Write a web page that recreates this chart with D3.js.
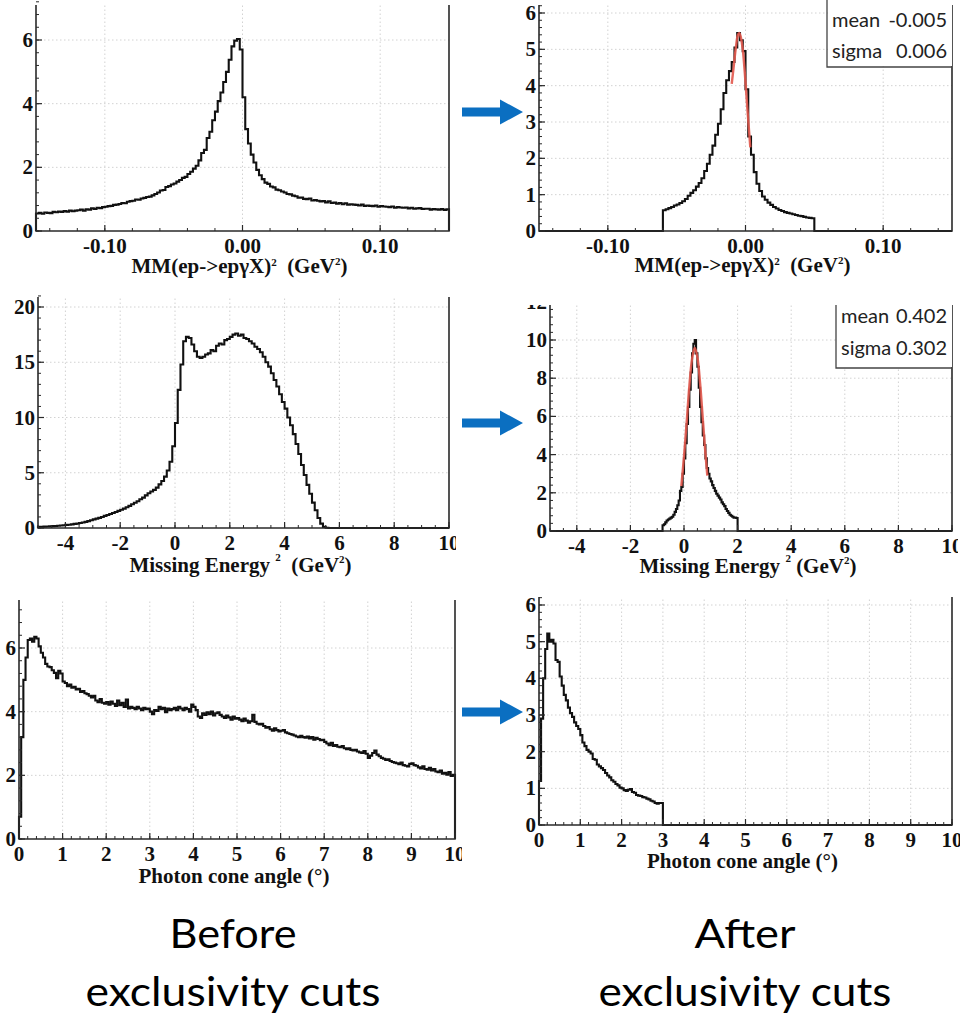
<!DOCTYPE html>
<html><head><meta charset="utf-8">
<script src="https://cdn.jsdelivr.net/npm/d3@7"></script>
<style>body{margin:0;background:#fff}svg{display:block}</style>
</head><body><svg id="c" width="963" height="1019"></svg>
<script>
// ---------------- DATA ----------------
// MM(ep->epγX)^2 before cuts : bins of 0.002 GeV^2 starting at -0.15
const mmBeforeStart = -0.15, mmBeforeWidth = 0.002;
const mmBeforeCounts = [
 0.55,0.57,0.54,0.58,0.57,0.56,0.60,0.59,0.61,0.60,0.63,0.61,0.64,0.62,0.64,
 0.65,0.67,0.64,0.68,0.67,0.71,0.69,0.73,0.72,0.75,0.76,0.78,0.79,0.82,0.83,
 0.85,0.88,0.87,0.92,0.94,0.95,0.99,0.98,1.02,1.04,1.07,1.08,1.12,1.16,1.21,
 1.27,1.29,1.38,1.41,1.46,1.49,1.55,1.60,1.67,1.70,1.79,1.86,1.96,2.05,2.22,
 2.45,2.55,2.92,3.12,3.48,3.75,4.08,4.35,4.68,5.00,5.38,5.80,5.98,6.03,5.70,
 4.20,3.20,2.75,2.40,2.15,1.92,1.75,1.63,1.52,1.48,1.40,1.37,1.30,1.28,1.24,
 1.21,1.16,1.15,1.11,1.09,1.05,1.05,1.01,1.00,1.02,0.96,0.97,0.95,0.93,0.94,
 0.90,0.93,0.88,0.89,0.86,0.88,0.84,0.87,0.83,0.84,0.83,0.82,0.80,0.83,0.79,
 0.80,0.79,0.78,0.80,0.76,0.78,0.77,0.76,0.75,0.77,0.73,0.75,0.74,0.73,0.74,
 0.71,0.73,0.70,0.71,0.72,0.69,0.70,0.70,0.67,0.69,0.68,0.67,0.69,0.66,0.68
];
// MM^2 after cuts : bins of 0.002 starting at -0.06
const mmAfterStart = -0.06, mmAfterWidth = 0.002;
const mmAfterCounts = [
 0.57,0.60,0.63,0.66,0.70,0.73,0.77,0.82,0.88,0.97,1.05,1.12,1.22,1.32,1.45,
 1.65,1.85,2.10,2.35,2.65,2.95,3.35,3.80,4.15,4.40,4.65,5.05,5.45,5.25,4.95,
 3.90,2.60,2.10,1.62,1.30,1.10,0.95,0.86,0.78,0.72,0.66,0.62,0.58,0.55,0.52,
 0.50,0.48,0.46,0.44,0.42,0.41,0.39,0.37,0.36,0.35
];
const mmFitX = [-0.0100,-0.0085,-0.0070,-0.0055,-0.0045,-0.0035,-0.0020,-0.0005,0.0010,0.0025,0.0035];
const mmFitY = [4.05,4.55,5.05,5.40,5.45,5.35,5.00,4.35,3.55,2.80,2.30];
const mmStatLabels = ["mean","sigma"];
const mmStatValues = ["-0.005","0.006"];

// Missing energy^2 before cuts : bins of 0.1 GeV^2 starting at -5
const meBeforeStart = -5, meBeforeWidth = 0.1;
const meBeforeCounts = [
 0.10,0.10,0.12,0.13,0.15,0.17,0.18,0.20,0.22,0.25,
 0.28,0.30,0.33,0.37,0.40,0.45,0.50,0.55,0.62,0.70,
 0.78,0.85,0.92,1.00,1.10,1.18,1.27,1.36,1.45,1.55,
 1.65,1.75,1.88,2.00,2.15,2.28,2.42,2.60,2.75,2.95,
 3.15,3.30,3.45,3.65,3.95,4.25,4.65,5.20,6.00,7.40,
 9.50,12.5,14.8,16.9,17.3,17.2,16.6,16.0,15.5,15.4,
 15.5,15.7,15.8,16.1,16.0,16.5,16.7,16.6,17.0,17.1,
 17.3,17.5,17.6,17.4,17.5,17.2,17.1,16.9,16.7,16.4,
 16.2,15.9,15.5,15.0,14.6,14.0,13.4,12.8,12.1,11.4,
 10.8,10.0,9.30,8.50,7.60,6.70,5.70,4.80,3.90,3.10,
 2.30,1.60,0.90,0.40,0.10,0.02
];
// Missing energy^2 after cuts : bins of 0.05 starting at -0.8
const meAfterStart = -0.8, meAfterWidth = 0.05;
const meAfterCounts = [
 0.30,0.35,0.45,0.55,0.60,0.65,0.70,0.75,0.85,1.00,1.15,1.35,1.60,2.10,2.30,3.00,
 3.80,4.60,5.60,6.50,7.40,8.30,9.30,9.80,10.0,9.30,8.60,7.50,6.50,5.70,5.00,4.50,
 3.80,3.30,3.00,2.75,2.60,2.40,2.25,2.10,1.95,1.85,1.75,1.65,1.50,1.40,1.30,1.15,
 1.05,0.95,0.85,0.80,0.75,0.70,0.70,0.68
];
const meFitX = [-0.10,0.0,0.1,0.2,0.3,0.4,0.5,0.6,0.7,0.8,0.87];
const meFitY = [2.35,3.90,5.70,7.60,9.00,9.60,9.10,7.75,5.90,4.05,2.90];
const meStatLabels = ["mean","sigma"];
const meStatValues = ["0.402","0.302"];

// Photon cone angle before cuts : bins of 0.05 deg starting at 0
const caBeforeStart = 0, caBeforeWidth = 0.05;
const caBeforeCounts = [
 0.70,3.20,5.00,5.70,6.25,6.30,6.20,6.35,6.30,6.05,
 5.85,5.70,5.50,5.42,5.40,5.30,5.22,5.05,5.28,5.20,
 4.95,4.90,4.80,4.85,4.75,4.78,4.70,4.72,4.62,4.65,
 4.58,4.55,4.50,4.45,4.50,4.35,4.30,4.40,4.28,4.25,
 4.30,4.22,4.32,4.25,4.18,4.35,4.20,4.28,4.15,4.38,
 4.10,4.15,4.12,4.08,4.15,4.10,4.05,4.12,4.08,4.10,
 4.00,3.92,4.05,4.02,4.15,4.08,4.12,3.98,4.10,4.05,
 4.08,4.12,4.05,4.15,4.10,4.05,4.12,4.08,4.00,4.22,
 4.15,4.05,3.85,3.80,3.95,3.90,3.98,3.92,4.00,3.88,
 3.95,3.98,3.90,3.85,3.80,3.88,3.82,3.75,3.85,3.78,
 3.80,3.75,3.70,3.78,3.72,3.65,3.70,3.90,3.68,3.62,
 3.60,3.62,3.55,3.50,3.52,3.45,3.40,3.48,3.42,3.38,
 3.40,3.42,3.35,3.32,3.30,3.28,3.25,3.22,3.20,3.24,
 3.20,3.18,3.22,3.16,3.20,3.12,3.18,3.14,3.10,3.12,
 3.05,3.00,2.95,3.02,2.92,2.95,2.90,2.88,2.92,2.85,
 2.82,2.85,2.80,2.78,2.80,2.75,2.72,2.70,2.76,2.68,
 2.55,2.62,2.70,2.78,2.65,2.60,2.55,2.52,2.48,2.50,
 2.45,2.42,2.40,2.38,2.35,2.40,2.32,2.30,2.28,2.36,
 2.38,2.32,2.30,2.25,2.22,2.28,2.20,2.18,2.24,2.15,
 2.20,2.12,2.10,2.15,2.05,2.08,2.02,2.10,1.98,2.02
];
// Photon cone angle after cuts : bins of 0.05 starting at 0
const caAfterStart = 0, caAfterWidth = 0.05;
const caAfterCounts = [
 1.20,2.90,4.00,4.80,5.22,5.00,5.05,4.95,4.50,4.45,
 4.05,3.80,3.55,3.40,3.20,3.05,2.95,2.80,2.70,2.62,
 2.45,2.25,2.15,2.05,2.00,1.95,1.80,1.78,1.65,1.60,
 1.55,1.50,1.42,1.35,1.30,1.22,1.18,1.12,1.08,1.02,
 1.00,0.95,0.93,0.96,0.98,0.90,0.88,0.82,0.80,0.79,
 0.76,0.75,0.72,0.70,0.66,0.64,0.60,0.58,0.60,0.60
];

// tick values / labels
const mmXTicks = [-0.10, 0.00, 0.10];
const mmXTickLabels = ["-0.10", "0.00", "0.10"];
const meXTicks = [-4,-2,0,2,4,6,8,10];
const meXTickLabels = ["-4","-2","0","2","4","6","8","10"];
const caXTicks = [0,1,2,3,4,5,6,7,8,9,10];
const caXTickLabels = ["0","1","2","3","4","5","6","7","8","9","10"];
const yTicksMMBefore = [0,2,4,6];
const yTicksMMAfter = [0,1,2,3,4,5,6];
const yTicksMEBefore = [0,5,10,15,20];
const yTicksMEAfter = [0,2,4,6,8,10,12];
const yTicksCABefore = [0,2,4,6];
const yTicksCAAfter = [0,1,2,3,4,5,6];

// axis titles: [text, superscript raise (0 = normal text)]
const titleMM = [["MM(ep->epγX)",0],["2",7],["  (GeV",0],["2",8],[")",0]];
const titleME = [["Missing Energy ",0],["2",11],["  (GeV",0],["2",9],[")",0]];
const titleMEb = [["Missing Energy ",0],["2",11],[" (GeV",0],["2",9],[")",0]];
const titleCA = [["Photon cone angle (°)",0]];
const captionLeft = ["Before", "exclusivity cuts"];
const captionRight = ["After", "exclusivity cuts"];

// ---------------- DRAWING ----------------
const svg = d3.select("#c");
const defs = svg.append("defs");
const SERIF = "Liberation Serif, Times New Roman, serif";
const SANS = "Lato, Open Sans, sans-serif";

function histPoints(start, width, counts, dom) {
  const pts = [[dom[0], 0], [start, 0]];
  counts.forEach((v, i) => {
    pts.push([start + i * width, v]);
    pts.push([start + (i + 1) * width, v]);
  });
  pts.push([start + counts.length * width, 0]);
  pts.push([dom[1], 0]);
  return pts;
}

function stepRange(a, b, s) {
  const out = [];
  const k0 = Math.ceil(a / s - 1e-9);
  for (let k = k0; k * s <= b + 1e-9; k++) out.push(k * s);
  return out;
}

function drawPanel(p, idx) {
  const cid = "clip" + idx;
  defs.append("clipPath").attr("id", cid).append("rect")
    .attr("x", p.clip[0]).attr("y", p.clip[1]).attr("width", p.clip[2] - p.clip[0]).attr("height", p.clip[3] - p.clip[1]);
  const g = svg.append("g").attr("clip-path", `url(#${cid})`);
  const x = d3.scaleLinear().domain(p.xDom).range([p.l, p.r]);
  const y = d3.scaleLinear().domain([0, p.yAt]).range([p.b, p.yAtPx]);

  // grid
  g.selectAll(null).data(p.xTicks.filter(v => x(v) > p.l + 1 && x(v) < p.r - 1)).enter().append("line")
    .attr("x1", d => x(d)).attr("x2", d => x(d)).attr("y1", p.b).attr("y2", p.t)
    .attr("stroke", "#d2d2d2").attr("stroke-width", 1).attr("stroke-dasharray", "1.5,2.5");
  g.selectAll(null).data(p.yTicks.filter(v => y(v) < p.b - 1 && y(v) > p.t)).enter().append("line")
    .attr("y1", d => y(d)).attr("y2", d => y(d)).attr("x1", p.l).attr("x2", p.r)
    .attr("stroke", "#d2d2d2").attr("stroke-width", 1).attr("stroke-dasharray", "1.5,2.5");

  // histogram
  const line = d3.line().x(d => x(d[0])).y(d => y(d[1]));
  g.append("path").attr("d", line(histPoints(p.hStart, p.hWidth, p.hCounts, p.xDom)))
    .attr("fill", "none").attr("stroke", "#111").attr("stroke-width", 2.1).attr("stroke-linejoin", "miter");

  // fit
  if (p.fitX) {
    const fl = d3.line().curve(d3.curveCatmullRom).x(d => x(d)).y((d, i) => y(p.fitY[i]));
    g.append("path").attr("d", fl(p.fitX)).attr("fill", "none")
      .attr("stroke", "#e2584d").attr("stroke-width", 2.4).attr("stroke-opacity", 0.9);
  }

  // frame
  g.append("path").attr("d", `M${p.l},${p.t}V${p.b}H${p.r}V${p.t}`)
    .attr("stroke", "#2a2a2a").attr("stroke-width", 1.6).attr("fill", "none");

  // ticks
  const xMinor = stepRange(p.xDom[0], p.xDom[1], p.xMinor);
  g.selectAll(null).data(xMinor).enter().append("line")
    .attr("x1", d => x(d)).attr("x2", d => x(d)).attr("y1", p.b).attr("y2", p.b - 3)
    .attr("stroke", "#2a2a2a").attr("stroke-width", 1);
  g.selectAll(null).data(p.xTicks).enter().append("line")
    .attr("x1", d => x(d)).attr("x2", d => x(d)).attr("y1", p.b).attr("y2", p.b - 6)
    .attr("stroke", "#2a2a2a").attr("stroke-width", 1.2);
  const yMinor = stepRange(0, p.yTicks[p.yTicks.length - 1] + p.yMinor * 3, p.yMinor);
  g.selectAll(null).data(yMinor).enter().append("line")
    .attr("y1", d => y(d)).attr("y2", d => y(d)).attr("x1", p.l).attr("x2", p.l + 3)
    .attr("stroke", "#2a2a2a").attr("stroke-width", 1);
  g.selectAll(null).data(p.yTicks).enter().append("line")
    .attr("y1", d => y(d)).attr("y2", d => y(d)).attr("x1", p.l).attr("x2", p.l + 6)
    .attr("stroke", "#2a2a2a").attr("stroke-width", 1.2);

  // tick labels
  g.selectAll(null).data(p.xTicks).enter().append("text")
    .attr("x", d => x(d)).attr("y", p.b + 22).attr("text-anchor", "middle")
    .attr("font-family", SERIF).attr("font-weight", "bold").attr("font-size", 21).attr("fill", "#111")
    .text((d, i) => p.xLabels[i]);
  g.selectAll(null).data(p.yTicks).enter().append("text")
    .attr("x", p.l - 3).attr("y", d => y(d) + 7).attr("text-anchor", "end")
    .attr("font-family", SERIF).attr("font-weight", "bold").attr("font-size", 21).attr("fill", "#111")
    .text(d => String(d));

  // axis title
  const t = g.append("text").attr("x", (p.l + p.r) / 2 - 3).attr("y", p.b + p.titleOff)
    .attr("text-anchor", "middle").attr("font-family", SERIF).attr("font-weight", "bold")
    .attr("font-size", 21).attr("fill", "#111").style("white-space", "pre");
  let prevRaise = 0;
  p.title.forEach(([s, raise]) => {
    const ts = t.append("tspan").text(s);
    if (raise) ts.attr("font-size", 11).attr("dy", prevRaise - raise);
    else ts.attr("dy", prevRaise);
    prevRaise = raise;
  });

  // stats box
  if (p.stat) {
    const s = p.stat;
    const sg = svg.append("g").attr("clip-path", `url(#${cid})`);
    sg.append("rect").attr("x", s.x0 + 1).attr("y", p.t - 5).attr("width", p.r - s.x0 - 1).attr("height", s.y1 - p.t + 4).attr("fill", "#fff");
    sg.append("path").attr("d", `M${s.x0},${p.t - 5}V${s.y1}H${p.r}`)
      .attr("fill", "none").attr("stroke", "#444").attr("stroke-width", 1.3);
    s.labels.forEach((lab, i) => {
      sg.append("text").attr("x", s.x0 + 5).attr("y", s.base[i]).attr("font-family", SANS)
        .attr("font-size", 20).attr("fill", "#222").text(lab);
      sg.append("text").attr("x", p.r - 5).attr("y", s.base[i]).attr("text-anchor", "end").attr("font-family", SANS)
        .attr("font-size", 20).attr("fill", "#222").text(s.values[i]);
    });
  }
}

const panels = [
  {l:36, r:449, t:5, b:231, yAt:6, yAtPx:40, xDom:[-0.15,0.15], xTicks:mmXTicks, xLabels:mmXTickLabels, xMinor:0.02,
   yTicks:yTicksMMBefore, yMinor:0.4, hStart:mmBeforeStart, hWidth:mmBeforeWidth, hCounts:mmBeforeCounts,
   title:titleMM, titleOff:42, clip:[0,0,462,290]},
  {l:539, r:952, t:5, b:231, yAt:6, yAtPx:13, xDom:[-0.15,0.15], xTicks:mmXTicks, xLabels:mmXTickLabels, xMinor:0.02,
   yTicks:yTicksMMAfter, yMinor:0.2, hStart:mmAfterStart, hWidth:mmAfterWidth, hCounts:mmAfterCounts,
   fitX:mmFitX, fitY:mmFitY, title:titleMM, titleOff:41, clip:[520,0,958,290],
   stat:{x0:827, y1:67, base:[27,58], labels:mmStatLabels, values:mmStatValues}},
  {l:38, r:449, t:297, b:528, yAt:20, yAtPx:307, xDom:[-5,10], xTicks:meXTicks, xLabels:meXTickLabels, xMinor:0.5,
   yTicks:yTicksMEBefore, yMinor:1, hStart:meBeforeStart, hWidth:meBeforeWidth, hCounts:meBeforeCounts,
   title:titleME, titleOff:44, clip:[0,292,456,590]},
  {l:550, r:952, t:305, b:531, yAt:10, yAtPx:340, xDom:[-5,10], xTicks:meXTicks, xLabels:meXTickLabels, xMinor:0.5,
   yTicks:yTicksMEAfter, yMinor:0.4, hStart:meAfterStart, hWidth:meAfterWidth, hCounts:meAfterCounts,
   fitX:meFitX, fitY:meFitY, title:titleMEb, titleOff:42, clip:[520,305,958,590],
   stat:{x0:836, y1:368, base:[323,355], labels:meStatLabels, values:meStatValues}},
  {l:19, r:455, t:600, b:839, yAt:6, yAtPx:648, xDom:[0,10], xTicks:caXTicks, xLabels:caXTickLabels, xMinor:0.2,
   yTicks:yTicksCABefore, yMinor:0.4, hStart:caBeforeStart, hWidth:caBeforeWidth, hCounts:caBeforeCounts,
   title:titleCA, titleOff:44, clip:[0,596,462,895]},
  {l:539, r:952, t:597, b:825, yAt:6, yAtPx:605, xDom:[0,10], xTicks:caXTicks, xLabels:caXTickLabels, xMinor:0.2,
   yTicks:yTicksCAAfter, yMinor:0.2, hStart:caAfterStart, hWidth:caAfterWidth, hCounts:caAfterCounts,
   title:titleCA, titleOff:43, clip:[520,593,960,895]}
];
panels.forEach(drawPanel);

// arrows between columns
[112, 423, 712].forEach(cy => {
  svg.append("path")
    .attr("d", `M462,${cy - 4.5}H500V${cy - 12.5}L523,${cy}L500,${cy + 12.5}V${cy + 4.5}H462Z`)
    .attr("fill", "#0b6fc1");
});

// captions
const capWidths = [[127, 295], [101, 293]];
[[captionLeft, 233], [captionRight, 745]].forEach(([lines, cx], j) => {
  [948, 1006].forEach((yy, i) => {
    svg.append("text").attr("x", cx).attr("y", yy).attr("text-anchor", "middle")
      .attr("font-family", SANS).attr("font-size", 40).attr("fill", "#000")
      .attr("textLength", capWidths[j][i]).attr("lengthAdjust", "spacingAndGlyphs").text(lines[i]);
  });
});
</script></body></html>
